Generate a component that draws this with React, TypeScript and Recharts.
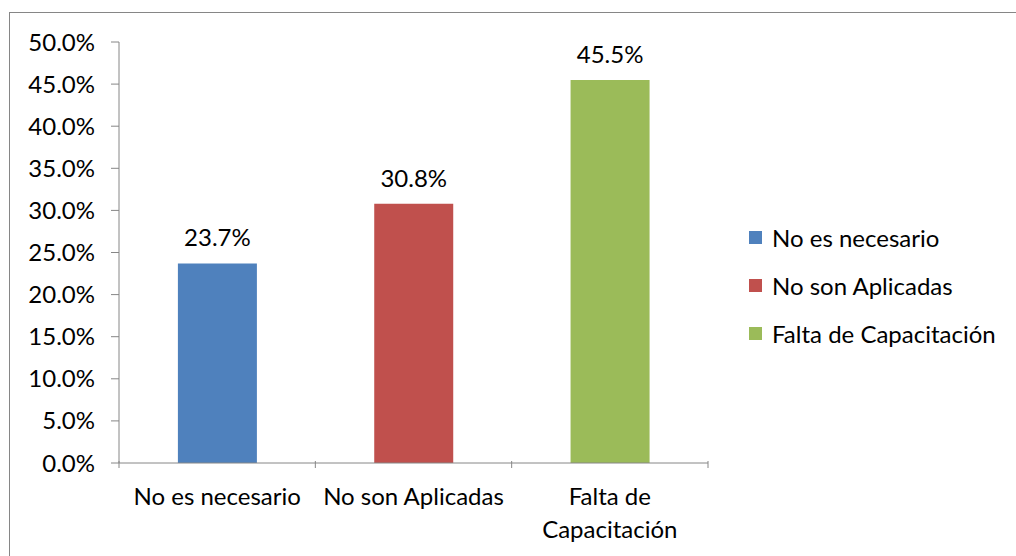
import { BarChart, Bar, XAxis, YAxis, Cell, LabelList } from "recharts";

const categories = ["No es necesario", "No son Aplicadas", "Falta de Capacitación"];
const tickLines = [["No es necesario"], ["No son Aplicadas"], ["Falta de", "Capacitación"]];
const values = [0.237, 0.308, 0.455];
const colors = ["#4f81bd", "#c0504d", "#9bbb59"];
const yTicks = [0, 0.05, 0.1, 0.15, 0.2, 0.25, 0.3, 0.35, 0.4, 0.45, 0.5];

const data = categories.map((name, i) => ({ name, value: values[i] }));

const W = 1016;
const H = 556;
const LEFT = 119;
const RIGHT = 308;
const AXIS = "#868686";
const FONT = "Lato, 'Liberation Sans', sans-serif";
const FS = 24;
const BAND = (W - LEFT - RIGHT) / categories.length;

const pct = (v: number) => `${(v * 100).toFixed(1)}%`;

function XTick(props: any) {
  const { x, y, index } = props;
  const lines = tickLines[index] || [];
  const top = y - 10;
  return (
    <g>
      <line x1={x - BAND / 2} x2={x - BAND / 2} y1={top} y2={top + 7} stroke={AXIS} />
      {index === categories.length - 1 && (
        <line x1={x + BAND / 2} x2={x + BAND / 2} y1={top} y2={top + 7} stroke={AXIS} />
      )}
      <text x={x} y={top + 44} textAnchor="middle" fontSize={FS} fill="#000" fontFamily={FONT}>
        {lines.map((l, i) => (
          <tspan key={i} x={x} dy={i === 0 ? 0 : 33}>
            {l}
          </tspan>
        ))}
      </text>
    </g>
  );
}

function LegendBox() {
  return (
    <div style={{ position: "absolute", left: 749, top: 213, fontFamily: FONT, fontSize: FS, color: "#000" }}>
      {categories.map((c, i) => (
        <div key={c} style={{ display: "flex", alignItems: "center", height: 48 }}>
          <span style={{ width: 13, height: 13, background: colors[i], marginRight: 10, display: "inline-block" }} />
          <span style={{ whiteSpace: "nowrap" }}>{c}</span>
        </div>
      ))}
    </div>
  );
}

export default function App() {
  return (
    <div style={{ position: "fixed", left: 0, top: 0, width: W, height: H, background: "#fff", overflow: "hidden" }}>
      <div
        style={{
          position: "absolute",
          left: 9,
          top: 12,
          width: 1100,
          height: 700,
          border: `1px solid ${AXIS}`,
        }}
      />
      <div style={{ position: "absolute", left: 0, top: 0 }}>
        <BarChart
          width={W}
          height={H}
          data={data}
          margin={{ top: 42, right: RIGHT, bottom: 0, left: 0 }}
          barCategoryGap="30%"
        >
          <XAxis
            dataKey="name"
            stroke={AXIS}
            tickLine={false}
            tick={<XTick />}
            interval={0}
            height={93}
          />
          <YAxis
            width={LEFT}
            domain={[0, 0.5]}
            ticks={yTicks}
            tickFormatter={pct}
            stroke={AXIS}
            tickSize={8}
            tickMargin={16}
            interval={0}
            tick={{ fill: "#000", fontSize: FS, fontFamily: FONT }}
          />
          <Bar dataKey="value" isAnimationActive={false}>
            {data.map((d, i) => (
              <Cell key={d.name} fill={colors[i]} />
            ))}
            <LabelList
              dataKey="value"
              position="top"
              offset={17}
              formatter={(v: any) => pct(Number(v))}
              fill="#000"
              fontSize={FS}
              fontFamily={FONT}
            />
          </Bar>
        </BarChart>
      </div>
      <LegendBox />
    </div>
  );
}
